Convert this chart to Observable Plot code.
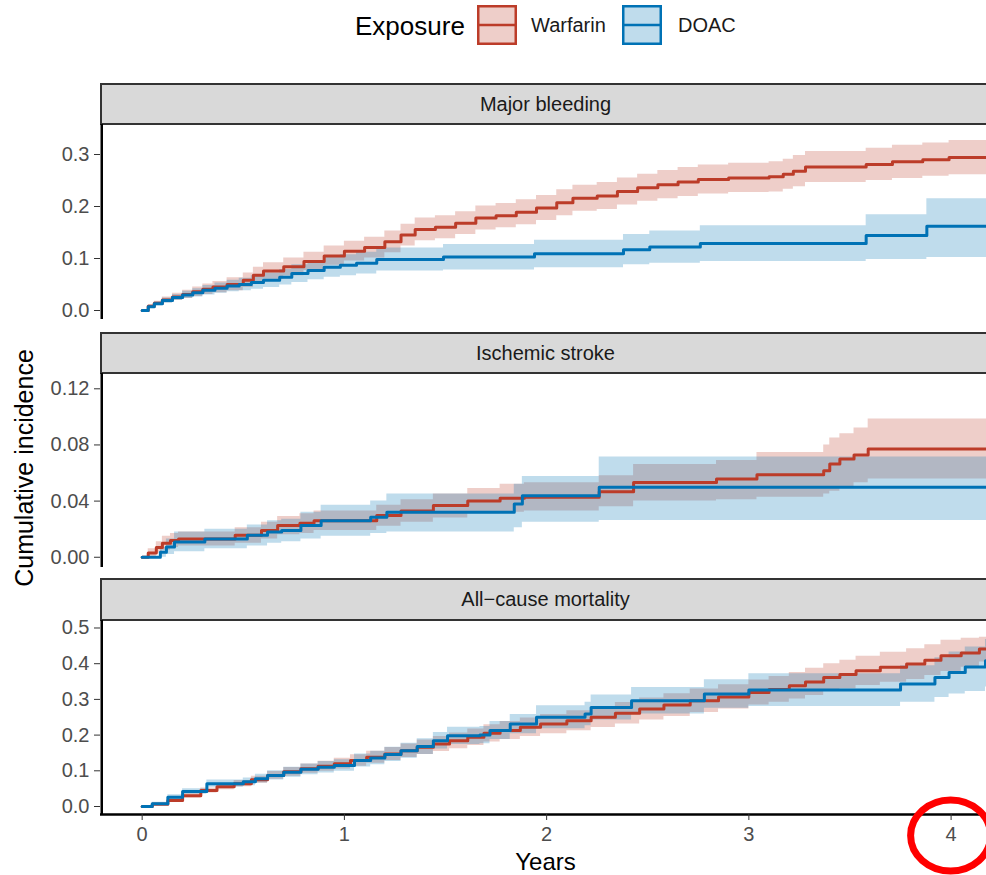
<!DOCTYPE html>
<html><head><meta charset="utf-8">
<script src="https://cdn.jsdelivr.net/npm/d3@7"></script>
<script src="https://cdn.jsdelivr.net/npm/@observablehq/plot@0.6"></script>
<style>
body{margin:0;background:#fff;}
#chart{position:relative;width:986px;height:875px;overflow:hidden;background:#fff;font-family:"Liberation Sans",Arial,Helvetica,sans-serif;}
.abs{position:absolute;white-space:nowrap;}
.strip{position:absolute;left:100px;width:891px;box-sizing:border-box;background:#d9d9d9;border:2px solid #333;color:#1a1a1a;font-size:20px;display:flex;align-items:center;justify-content:center;}
.panel{position:absolute;left:0;}
</style>
</head><body>
<div id="chart"></div>
<script>
// ---- categories / labels ----
const seriesNames = ["Warfarin", "DOAC"];
const seriesColors = ["#BC3C29", "#0072B5"];
const panelTitles = ["Major bleeding", "Ischemic stroke", "All\u2212cause mortality"];
const xTicks = [0, 1, 2, 3, 4];
const yTicksBleeding = [0, 0.1, 0.2, 0.3];
const yTicksStroke = [0, 0.04, 0.08, 0.12];
const yTicksMortality = [0, 0.1, 0.2, 0.3, 0.4, 0.5];

// ---- data: [years, estimate, lower CI, upper CI] ----
const bleedingWarfarin = [
 [0,0,0,0],[0.03,.008,.005,.011],[0.06,.014,.010,.018],[0.1,.020,.015,.026],[0.15,.026,.019,.033],
 [0.2,.031,.023,.039],[0.25,.036,.027,.045],[0.3,.041,.031,.051],[0.35,.045,.034,.056],[0.42,.050,.038,.063],
 [0.5,.058,.044,.072],[0.55,.068,.053,.083],[0.6,.076,.060,.092],[0.7,.084,.067,.101],[0.8,.094,.077,.112],
 [0.9,.105,.087,.124],[1.0,.114,.095,.133],[1.1,.121,.101,.141],[1.2,.132,.111,.153],[1.28,.145,.124,.166],
 [1.35,.156,.134,.178],[1.45,.160,.138,.182],[1.55,.168,.146,.190],[1.65,.178,.155,.201],[1.75,.182,.159,.206],
 [1.85,.189,.165,.213],[1.95,.197,.173,.221],[2.05,.207,.182,.232],[2.13,.216,.191,.241],[2.25,.220,.194,.246],
 [2.35,.229,.203,.255],[2.45,.236,.210,.262],[2.55,.242,.215,.269],[2.65,.247,.219,.275],[2.75,.252,.224,.280],
 [2.9,.255,.227,.283],[3.1,.257,.228,.286],[3.17,.262,.233,.291],[3.22,.268,.238,.298],[3.28,.276,.246,.306],
 [3.58,.281,.250,.312],[3.71,.286,.254,.318],[3.86,.290,.258,.322],[3.99,.294,.261,.327],[4.3,.294,.261,.327]
];
const bleedingDOAC = [
 [0,0,0,0],[0.03,.007,.004,.010],[0.06,.013,.009,.017],[0.1,.019,.014,.024],[0.15,.025,.019,.031],
 [0.2,.030,.023,.037],[0.25,.034,.026,.042],[0.3,.039,.030,.048],[0.36,.043,.033,.053],[0.42,.047,.036,.058],
 [0.48,.050,.038,.062],[0.54,.054,.041,.067],[0.6,.058,.044,.072],[0.68,.064,.049,.079],[0.74,.071,.054,.088],
 [0.82,.077,.059,.095],[0.9,.083,.064,.102],[0.98,.087,.067,.107],[1.06,.091,.070,.112],[1.16,.098,.076,.120],
 [1.49,.103,.078,.127],[1.94,.109,.082,.135],[2.38,.117,.088,.146],[2.51,.122,.091,.153],[2.76,.129,.094,.163],
 [3.58,.144,.098,.184],[3.88,.162,.102,.215],[4.3,.162,.102,.215]
];
const strokeWarfarin = [
 [0,0,0,0],[0.03,.003,.000,.006],[0.07,.007,.003,.011],[0.1,.010,.005,.015],[0.14,.012,.007,.017],
 [0.18,.013,.008,.018],[0.46,.0156,.010,.021],[0.59,.019,.013,.025],[0.67,.0226,.016,.029],[0.78,.0243,.017,.031],
 [0.85,.026,.019,.033],[1.16,.0297,.022,.037],[1.28,.033,.025,.041],[1.44,.0368,.028,.045],[1.61,.040,.031,.049],
 [1.77,.042,.032,.052],[1.89,.0427,.033,.053],[2.26,.0467,.036,.058],[2.43,.0533,.040,.066],[2.84,.0557,.041,.069],
 [3.04,.0588,.0427,.0746],[3.37,.0616,.045,.080],[3.40,.0665,.047,.085],[3.45,.070,.050,.088],[3.52,.0729,.053,.092],
 [3.59,.0771,.0557,.0984],[4.3,.0771,.0557,.0984]
];
const strokeDOAC = [
 [0,0,0,0],[0.09,.0035,.000,.007],[0.12,.0073,.002,.013],[0.16,.0108,.004,.018],[0.31,.013,.006,.020],
 [0.52,.0156,.008,.023],[0.62,.018,.010,.026],[0.69,.019,.011,.027],[0.785,.0226,.013,.032],[0.885,.026,.015,.037],
 [1.13,.0285,.017,.040],[1.21,.032,.018,.045],[1.84,.038,.021,.052],[1.88,.0439,.025,.0575],[2.26,.0498,.0262,.0715],
 [4.3,.0498,.0262,.0715]
];
const mortalityWarfarin = [
 [0,0,0,0],[0.05,.006,.003,.009],[0.127,.017,.012,.022],[0.2,.030,.024,.036],[0.29,.045,.038,.052],
 [0.37,.055,.047,.063],[0.455,.064,.055,.073],[0.54,.075,.065,.085],[0.62,.087,.076,.098],[0.7,.097,.085,.109],
 [0.785,.106,.093,.119],[0.87,.113,.099,.127],[0.95,.120,.105,.135],[1.03,.129,.113,.145],[1.11,.138,.121,.155],
 [1.2,.147,.129,.165],[1.28,.156,.137,.175],[1.36,.166,.146,.186],[1.44,.175,.154,.196],[1.52,.184,.162,.206],
 [1.61,.194,.171,.217],[1.69,.205,.181,.229],[1.77,.213,.188,.238],[1.87,.222,.196,.248],[1.97,.231,.204,.258],
 [2.1,.240,.212,.268],[2.22,.250,.221,.279],[2.34,.261,.231,.291],[2.46,.273,.242,.304],[2.58,.284,.252,.316],
 [2.71,.296,.263,.329],[2.85,.307,.273,.341],[3.0,.319,.284,.354],[3.1,.328,.292,.364],[3.2,.338,.301,.375],
 [3.28,.349,.311,.387],[3.37,.361,.322,.400],[3.45,.370,.330,.410],[3.53,.380,.339,.421],[3.65,.390,.348,.432],
 [3.78,.399,.356,.442],[3.87,.410,.367,.453],[3.95,.422,.378,.466],[4.05,.430,.390,.471],[4.14,.441,.405,.474],
 [4.3,.441,.405,.474]
];
const mortalityDOAC = [
 [0,0,0,0],[0.05,.008,.004,.012],[0.127,.026,.019,.033],[0.2,.042,.034,.050],[0.32,.064,.054,.074],
 [0.5,.069,.058,.080],[0.56,.078,.066,.090],[0.62,.087,.074,.100],[0.7,.096,.082,.110],[0.785,.104,.089,.119],
 [0.87,.110,.094,.126],[0.95,.115,.099,.131],[1.05,.129,.111,.147],[1.13,.136,.117,.155],[1.2,.146,.126,.166],
 [1.28,.156,.135,.177],[1.36,.168,.146,.190],[1.44,.184,.161,.207],[1.51,.198,.174,.222],[1.67,.200,.176,.224],
 [1.72,.213,.188,.238],[1.82,.231,.204,.258],[1.95,.250,.218,.282],[2.19,.259,.226,.292],[2.22,.277,.242,.312],
 [2.42,.296,.259,.333],[2.78,.315,.275,.355],[3.0,.326,.280,.372],[3.75,.343,.292,.394],[3.92,.361,.305,.417],
 [3.99,.375,.315,.433],[4.07,.391,.322,.447],[4.17,.408,.335,.468],[4.3,.408,.335,.468]
];

// ---- build ----
const toRows = (arr, s) => arr.map(([t, est, lo, hi]) => ({t, est, lo, hi, series: s}));
const font = '"Liberation Sans", Arial, Helvetica, sans-serif';
const xDomain = [-0.206, 4.175];
const color = {domain: seriesNames, range: seriesColors};

const panels = [
  {title: panelTitles[0], rows: [...toRows(bleedingWarfarin, "Warfarin"), ...toRows(bleedingDOAC, "DOAC")],
   yDomain: [-0.0173, 0.3577], yTicks: yTicksBleeding, fmt: ".1f", stripTop: 83, top: 124, height: 195, xAxis: false},
  {title: panelTitles[1], rows: [...toRows(strokeWarfarin, "Warfarin"), ...toRows(strokeDOAC, "DOAC")],
   yDomain: [-0.0073, 0.1309], yTicks: yTicksStroke, fmt: ".2f", stripTop: 332, top: 373, height: 194, xAxis: false},
  {title: panelTitles[2], rows: [...toRows(mortalityWarfarin, "Warfarin"), ...toRows(mortalityDOAC, "DOAC")],
   yDomain: [-0.0224, 0.521], yTicks: yTicksMortality, fmt: ".1f", stripTop: 578, top: 620, height: 194, xAxis: true}
];

const chart = document.getElementById("chart");
let lastPlot = null, lastPanel = null;

for (const p of panels) {
  const strip = document.createElement("div");
  strip.className = "strip";
  strip.style.top = p.stripTop + "px";
  strip.style.height = (p.top - p.stripTop + 1) + "px";
  strip.textContent = p.title;
  chart.appendChild(strip);

  const marks = [
    Plot.areaY(p.rows, {x: "t", y1: "lo", y2: "hi", fill: "series", fillOpacity: 0.25, curve: "step-after", clip: true}),
    Plot.lineY(p.rows, {x: "t", y: "est", stroke: "series", strokeWidth: 3, curve: "step-after", clip: true}),
    Plot.ruleX([xDomain[0]], {stroke: "#000", strokeWidth: 2.5, dx: 1.25}),
    Plot.axisY(p.yTicks, {tickFormat: d3.format(p.fmt), tickSize: 6, tickPadding: 5, stroke: "#333", fill: "#4d4d4d", label: null})
  ];
  if (p.xAxis) {
    marks.push(Plot.ruleY([p.yDomain[0]], {stroke: "#000", strokeWidth: 2.5}));
    marks.push(Plot.axisX(xTicks, {tickSize: 6, tickPadding: 6, stroke: "#333", fill: "#4d4d4d", label: null, tickFormat: d3.format("d")}));
  }
  const plot = Plot.plot({
    width: 986, height: p.height + (p.xAxis ? 40 : 0),
    marginLeft: 100, marginRight: 0, marginTop: 0, marginBottom: p.xAxis ? 40 : 0,
    x: {domain: xDomain, axis: null},
    y: {domain: p.yDomain, axis: null},
    color,
    style: {fontSize: "20px", fontFamily: font, background: "transparent", overflow: "visible"},
    marks
  });
  plot.classList.add("panel");
  plot.style.top = p.top + "px";
  chart.appendChild(plot);
  lastPlot = plot; lastPanel = p;
}

// axis titles
const yTitle = document.createElement("div");
yTitle.className = "abs";
yTitle.style.cssText += "left:24px;top:468px;font-size:25px;color:#000;transform:translate(-50%,-50%) rotate(-90deg);";
yTitle.textContent = "Cumulative incidence";
chart.appendChild(yTitle);

const xTitle = document.createElement("div");
xTitle.className = "abs";
xTitle.style.cssText += "left:545.5px;top:862px;font-size:24px;color:#000;transform:translate(-50%,-50%);";
xTitle.textContent = "Years";
chart.appendChild(xTitle);

// legend
const legend = document.createElement("div");
legend.className = "abs";
legend.style.cssText += "left:0;top:0;width:986px;height:50px;";
const legTitle = document.createElement("div");
legTitle.className = "abs";
legTitle.style.cssText += "left:355px;top:26px;font-size:26px;color:#000;transform:translateY(-50%);";
legTitle.textContent = "Exposure";
legend.appendChild(legTitle);
const keyLefts = [477, 622];
const labelLefts = [531, 678];
seriesNames.forEach((s, i) => {
  const ns = "http://www.w3.org/2000/svg";
  const svg = document.createElementNS(ns, "svg");
  svg.setAttribute("width", 40); svg.setAttribute("height", 40);
  svg.style.cssText = `position:absolute;left:${keyLefts[i]}px;top:5px;`;
  const r = document.createElementNS(ns, "rect");
  r.setAttribute("x", 1.25); r.setAttribute("y", 1.25); r.setAttribute("width", 37.5); r.setAttribute("height", 37.5);
  r.setAttribute("fill", seriesColors[i]); r.setAttribute("fill-opacity", 0.25);
  r.setAttribute("stroke", seriesColors[i]); r.setAttribute("stroke-width", 2.5);
  svg.appendChild(r);
  const l = document.createElementNS(ns, "line");
  l.setAttribute("x1", 1); l.setAttribute("x2", 39); l.setAttribute("y1", 20); l.setAttribute("y2", 20);
  l.setAttribute("stroke", seriesColors[i]); l.setAttribute("stroke-width", 2.6);
  svg.appendChild(l);
  legend.appendChild(svg);
  const t = document.createElement("div");
  t.className = "abs";
  t.style.cssText += `left:${labelLefts[i]}px;top:25px;font-size:20px;color:#1a1a1a;transform:translateY(-50%);`;
  t.textContent = s;
  legend.appendChild(t);
});
chart.appendChild(legend);

// red annotation circle around the last x tick
const cx = lastPlot.scale("x").apply(xTicks[xTicks.length - 1]);
const cy = lastPanel.top + lastPanel.height + 21.5;
const ns = "http://www.w3.org/2000/svg";
const ann = document.createElementNS(ns, "svg");
ann.setAttribute("width", 986); ann.setAttribute("height", 875);
ann.style.cssText = "position:absolute;left:0;top:0;pointer-events:none;";
const el = document.createElementNS(ns, "ellipse");
el.setAttribute("cx", cx); el.setAttribute("cy", cy); el.setAttribute("rx", 40); el.setAttribute("ry", 35.5);
el.setAttribute("fill", "none"); el.setAttribute("stroke", "#ff0000"); el.setAttribute("stroke-width", 7);
ann.appendChild(el);
chart.appendChild(ann);
</script>
</body></html>
